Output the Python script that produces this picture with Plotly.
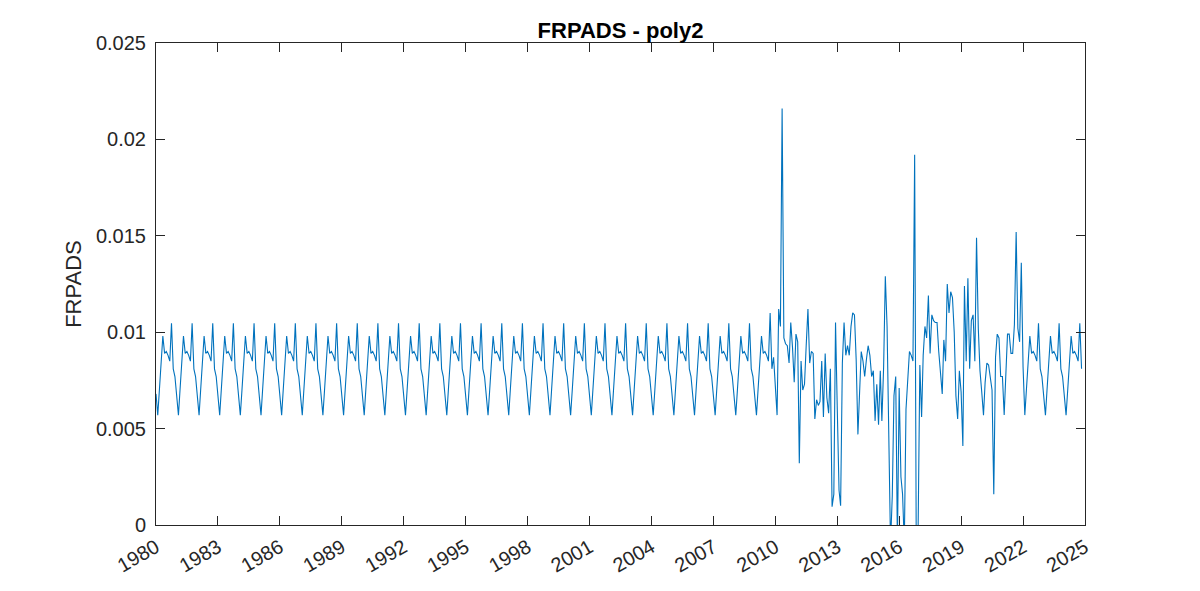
import pandas as pd
import plotly.graph_objects as go

# Repeating monthly cycle (Jan..Dec) shown from 1980 to Sep 2009 and from Feb 2022 on
seasonal_cycle = [0.0068, 0.0057, 0.0070, 0.0084, 0.0098, 0.0089,
                  0.0090, 0.0088, 0.0085, 0.01046, 0.0081, 0.0077]

# Monthly values, Oct 2009 .. Jan 2022
observed_2009 = [0.0110, 0.0081, 0.0087]  # Oct-Dec
observed_2010 = [0.0071, 0.0057, 0.0112, 0.0103, 0.0216, 0.0097, 0.0094, 0.0093, 0.0084, 0.0105, 0.0092, 0.0074]
observed_2011 = [0.0099, 0.0095, 0.0032, 0.0085, 0.0070, 0.0073, 0.0093, 0.0112, 0.0084, 0.0090, 0.0089, 0.0055]
observed_2012 = [0.0065, 0.0062, 0.0064, 0.0085, 0.0056, 0.0089, 0.0066, 0.0058, 0.0081, 0.00095, 0.0016, 0.0105]
observed_2013 = [0.0060, 0.0018, 0.0010, 0.0084, 0.0105, 0.0088, 0.0093, 0.0088, 0.0103, 0.0110, 0.0109, 0.0086]
observed_2014 = [0.0047, 0.0069, 0.0090, 0.0085, 0.0077, 0.0086, 0.0093, 0.0088, 0.0077, 0.0080, 0.0054, 0.0073]
observed_2015 = [0.0052, 0.0080, 0.0054, 0.0082, 0.0129, 0.0103, 0.0048, -0.0010, 0.0015, 0.0067, 0.0077, -0.0010]
observed_2016 = [0.0071, 0.0025, 0.0016, -0.0010, 0.0060, 0.0073, 0.0090, 0.0088, 0.0085, 0.0192, -0.0030, -0.0003]
observed_2017 = [0.0083, 0.0056, 0.0088, 0.0103, 0.0097, 0.0119, 0.0089, 0.0109, 0.0106, 0.0105, 0.0105, 0.0090]
observed_2018 = [0.0080, 0.0068, 0.0096, 0.0085, 0.0125, 0.0110, 0.0121, 0.0118, 0.0100, 0.0067, 0.0055, 0.0080]
observed_2019 = [0.0069, 0.0041, 0.0124, 0.0085, 0.0128, 0.0081, 0.0106, 0.0109, 0.0085, 0.0149, 0.0102, 0.0080]
observed_2020 = [0.0069, 0.0057, 0.0074, 0.0084, 0.0083, 0.0076, 0.0070, 0.0016, 0.0087, 0.0099, 0.0097, 0.0077]
observed_2021 = [0.0077, 0.0057, 0.0080, 0.0099, 0.0099, 0.0089, 0.0089, 0.0104, 0.0152, 0.0102, 0.0095, 0.0136]
observed_2022 = [0.0082]  # Jan

tick_years = list(range(1980, 2026, 3))
y_ticks = [0, 0.005, 0.01, 0.015, 0.02, 0.025]
y_tick_labels = ["0", "0.005", "0.01", "0.015", "0.02", "0.025"]

# Assemble the monthly series Jan 1980 .. Nov 2024
values = (seasonal_cycle * 29 + seasonal_cycle[:9]
          + observed_2009 + observed_2010 + observed_2011 + observed_2012
          + observed_2013 + observed_2014 + observed_2015 + observed_2016
          + observed_2017 + observed_2018 + observed_2019 + observed_2020
          + observed_2021 + observed_2022
          + seasonal_cycle[1:] + seasonal_cycle * 1 + seasonal_cycle[:11])
dates = pd.date_range("1980-01-01", periods=len(values), freq="MS")

FONT = "Liberation Sans, Arial, Helvetica, sans-serif"
AX = "#262626"

fig = go.Figure(go.Scatter(x=dates, y=values, mode="lines",
                           line=dict(color="#0072BD", width=1.1)))

# page body has an 8px default margin, so margins are shifted by 8px
fig.update_layout(
    width=1200, height=591,
    margin=dict(l=148, r=123, t=35, b=74),
    paper_bgcolor="white", plot_bgcolor="white",
    showlegend=False,
    font=dict(family=FONT, size=20, color=AX),
    title=dict(text="<b>FRPADS - poly2</b>", x=0.5, xref="paper",
               y=1 - 22 / 591, yref="container", yanchor="middle",
               font=dict(family=FONT, size=22, color="black")),
)
fig.update_xaxes(
    type="date", range=["1980-01-01", "2025-01-01"],
    tickvals=[f"{y}-01-01" for y in tick_years],
    ticktext=[str(y) for y in tick_years],
    tickangle=-30, ticks="inside", ticklen=9, tickcolor=AX, tickwidth=1,
    showline=True, linecolor=AX, linewidth=1, mirror="ticks",
    showgrid=False, zeroline=False, ticklabelstandoff=2,
    tickfont=dict(family=FONT, size=20, color=AX),
)
fig.update_yaxes(
    range=[0, 0.025], tickvals=y_ticks, ticktext=y_tick_labels,
    ticks="inside", ticklen=9, tickcolor=AX, tickwidth=1,
    showline=True, linecolor=AX, linewidth=1, mirror="ticks",
    showgrid=False, zeroline=False, ticklabelstandoff=5,
    tickfont=dict(family=FONT, size=20, color=AX),
    title=dict(text="FRPADS", standoff=8, font=dict(family=FONT, size=22, color=AX)),
)

fig.write_html("out.html")
